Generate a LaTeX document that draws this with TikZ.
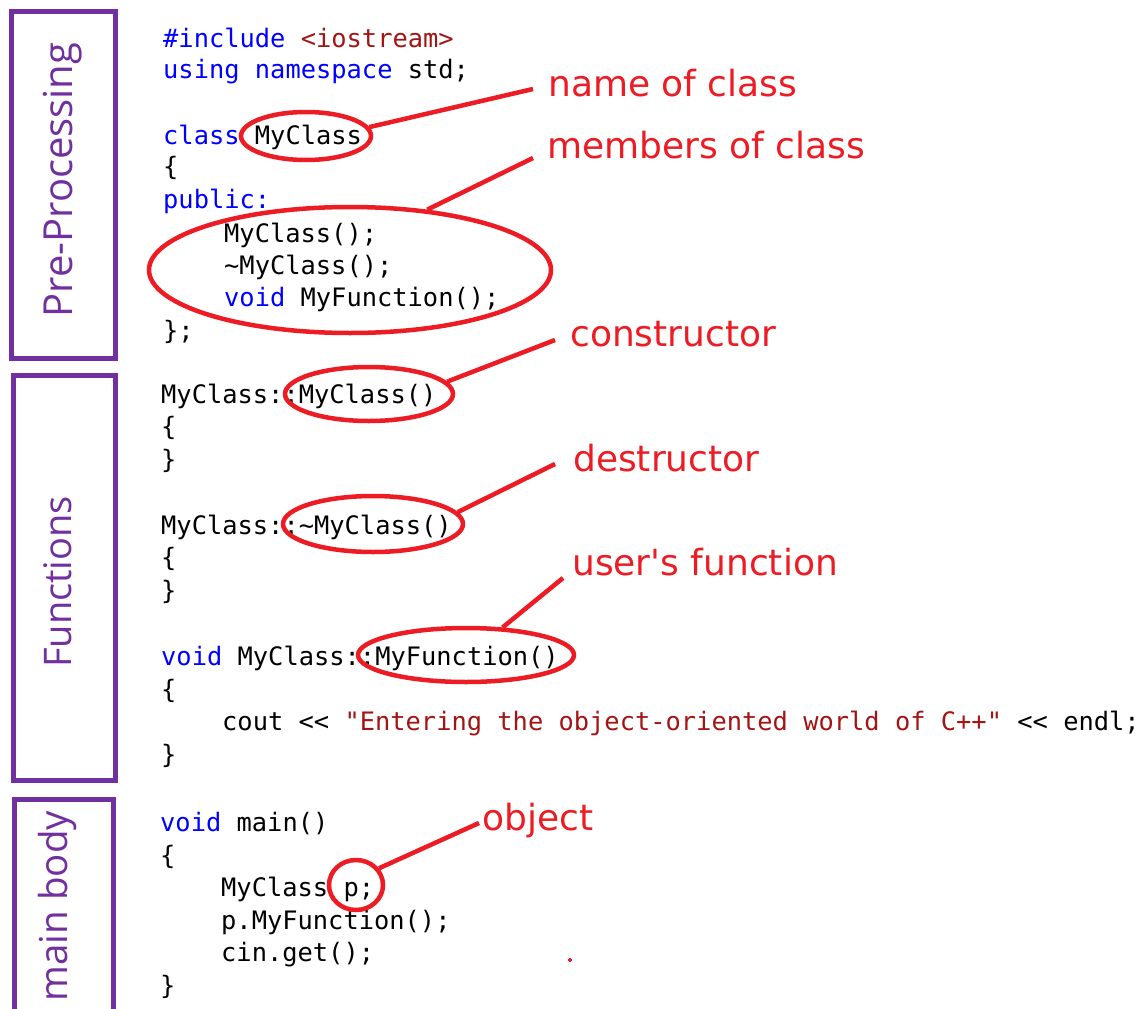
\documentclass[tikz,border=0pt]{standalone}
\usepackage{fontspec}
\usetikzlibrary{shapes.geometric}
\newfontfamily\codefont{DejaVu Sans Mono}
\newfontfamily\labfont{DejaVu Sans}
\newfontfamily\sidefont{Open Sans}
\definecolor{kwblue}{HTML}{0000FF}
\definecolor{strred}{HTML}{A31515}
\definecolor{labred}{HTML}{ED1C24}
\definecolor{sidepurple}{HTML}{7030A0}
\newcommand\kwc{\color{kwblue}}
\newcommand\strc{\color{strred}}
\tikzset{
  code/.style={anchor=mid west, inner sep=0pt, text=black, font=\codefont\fontsize{25.4}{30}\selectfont},
  lab/.style={anchor=mid west, inner sep=0pt, text=labred, font=\labfont\fontsize{36}{42}\selectfont},
  hilite/.style={ellipse, draw=labred, line width=4.5pt, inner sep=0pt},
  conn/.style={draw=labred, line width=4.5pt},
  side/.style={rotate=90, anchor=mid, inner sep=0pt, text=sidepurple, font=\sidefont\fontsize{40}{44}\selectfont},
  sidebox/.style={draw=sidepurple, line width=5pt, inner sep=0pt, rectangle}
}
\begin{document}
\begin{tikzpicture}[x=1pt,y=-1pt]
\useasboundingbox[fill=white] (0,0) rectangle (1143,1009);

% side boxes
\node[sidebox, minimum width=104pt, minimum height=347pt] (b1) at (63.5,185) {};
\node[sidebox, minimum width=102.5pt, minimum height=405pt] (b2) at (64.25,578) {};
\node[sidebox, minimum width=98.7pt, minimum height=240pt] (b3) at (64.15,919.5) {};
\node[side] (s1) at (70,180) {Pre-Processing};
\node[side, font=\sidefont\fontsize{38}{42}\selectfont] (s2) at (69,582) {Functions};
\node[side, font=\sidefont\fontsize{38.5}{42}\selectfont] (s3) at (65,906) {main body};

% section 1
\node[code] (l1) at (163,45) {{\kwc\#include} {\strc<iostream>}};
\node[code] (l2) at (163,76) {{\kwc using namespace} std;};
\node[code] (l3) at (163,142) {{\kwc class} MyClass};
\node[code] (l4) at (163,173) {\{};
\node[code] (l5) at (163,206) {{\kwc public:}};
\node[code] (l6) at (224,240) {MyClass();};
\node[code] (l7) at (224,272) {\textasciitilde MyClass();};
\node[code] (l8) at (224,304) {{\kwc void} MyFunction();};
\node[code] (l9) at (163,337) {\};};

% section 2
\node[code] (m1) at (161,401) {MyClass::MyClass()};
\node[code] (m2) at (161,433) {\{};
\node[code] (m3) at (161,466) {\}};
\node[code] (m4) at (161,532) {MyClass::\textasciitilde MyClass()};
\node[code] (m5) at (161,564) {\{};
\node[code] (m6) at (161,597) {\}};
\node[code] (m7) at (161,663) {{\kwc void} MyClass::MyFunction()};
\node[code] (m8) at (161,696) {\{};
\node[code] (m9) at (222,728) {cout << {\strc "Entering the object-oriented world of C++"} << endl;};
\node[code] (m10) at (161,761) {\}};

% section 3
\node[code] (k1) at (160,829) {{\kwc void} main()};
\node[code] (k2) at (160,862) {\{};
\node[code] (k3) at (221,894) {MyClass p;};
\node[code] (k4) at (221,927) {p.MyFunction();};
\node[code] (k5) at (221,959) {cin.get();};
\node[code] (k6) at (160,992) {\}};

% highlight ellipses
\node[hilite, minimum width=130pt, minimum height=48pt] (e1) at (306,136) {};
\node[hilite, minimum width=402pt, minimum height=126pt] (e2) at (350,270) {};
\node[hilite, minimum width=168pt, minimum height=54pt] (e3) at (369,394) {};
\node[hilite, minimum width=180pt, minimum height=56pt] (e4) at (373,524) {};
\node[hilite, minimum width=216pt, minimum height=54pt] (e5) at (466,655) {};
\node[hilite, minimum width=54pt, minimum height=50pt] (e6) at (356,885) {};

% labels
\node[lab] (t1) at (548,94) {name of class};
\node[lab] (t2) at (547,156) {members of class};
\node[lab] (t3) at (570,344) {constructor};
\node[lab] (t4) at (573,469) {destructor};
\node[lab] (t5) at (572,573) {user's function};
\node[lab] (t6) at (482,828) {object};

% connector ends
\coordinate (p1) at (533,89);
\coordinate (p2) at (533,158);
\coordinate (p3) at (555,340);
\coordinate (p4) at (555,464);
\coordinate (p5) at (563,578);
\coordinate (p6) at (479,823);

\draw[conn] (e1.8) -- (p1);
\draw[conn] (e2.38) -- (p2);
\draw[conn] (e3.9) -- (p3);
\draw[conn] (e4.8) -- (p4);
\draw[conn] (e5.37) -- (p5);
\draw[conn] (e6.36) -- (p6);

% stray red dot
\fill[labred] (568,959) rectangle (572,961);
\fill[labred] (569,958) rectangle (571,962);
\end{tikzpicture}
\end{document}
